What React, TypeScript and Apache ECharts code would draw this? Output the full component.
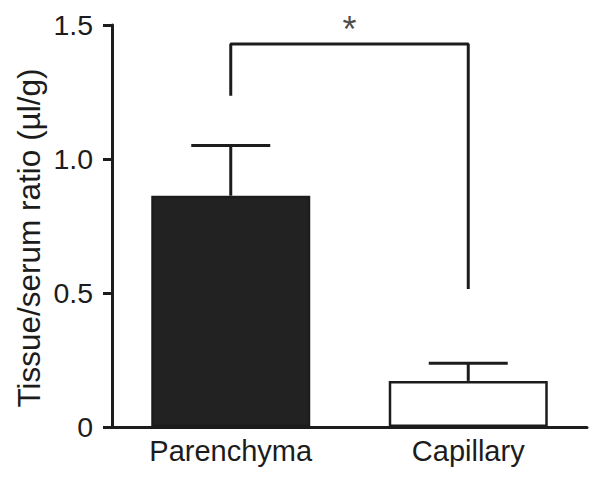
import React, { useEffect, useRef } from "react";
import * as echarts from "echarts";

const categories = ["Parenchyma", "Capillary"];
const means = [0.863, 0.172];
const errorTops = [1.05, 0.238];
const barColors = ["#222222", "#ffffff"];
const yTicks = [0, 0.5, 1.0, 1.5];
const yTitle = "Tissue/serum ratio (\u00b5l/g)";
// significance bracket: [category position, value]
const bracket = [
  [0, 1.236],
  [0, 1.429],
  [1, 1.429],
  [1, 0.515],
];
const starPos = [0.5, 1.429];
const starText = "*";

const FONT = "'Liberation Sans', Arial, Helvetica, sans-serif";
const INK = "#1c1c1c";

export default function App() {
  const ref = useRef<HTMLDivElement>(null);
  useEffect(() => {
    if (!ref.current) return;
    const chart = echarts.init(ref.current, null, { renderer: "svg" });
    chart.setOption({
      animation: false,
      backgroundColor: "#ffffff",
      grid: { left: 112, right: 13, top: 25, bottom: 52, containLabel: false },
      graphic: [
        {
          type: "text",
          x: 29,
          y: 238,
          rotation: Math.PI / 2,
          style: {
            text: yTitle,
            fontSize: 31.5,
            fontFamily: FONT,
            fill: INK,
            align: "center",
            verticalAlign: "middle",
          },
        },
      ],
      xAxis: [
        {
          type: "category",
          data: categories,
          axisLine: { onZero: false, lineStyle: { color: INK, width: 3 } },
          axisTick: { show: false },
          axisLabel: { color: INK, fontSize: 29, fontFamily: FONT, margin: 9 },
        },
        {
          type: "value",
          min: -0.5,
          max: 1.5,
          show: false,
        },
      ],
      yAxis: {
        type: "value",
        min: 0,
        max: 1.5,
        interval: 0.5,
        splitLine: { show: false },
        axisLine: { show: true, onZero: false, lineStyle: { color: INK, width: 3 } },
        axisTick: { show: true, length: 9, lineStyle: { color: INK, width: 3 } },
        axisLabel: {
          color: INK,
          fontSize: 28.5,
          fontFamily: FONT,
          margin: 19,
          formatter: (v: number) => (v === 0 ? "0" : v.toFixed(1)),
        },
      },
      series: [
        {
          type: "bar",
          xAxisIndex: 0,
          barWidth: 159,
          data: means.map((v, i) => ({
            value: v,
            itemStyle: {
              color: barColors[i],
              borderColor: INK,
              borderWidth: 2.5,
            },
          })),
        },
        {
          type: "custom",
          xAxisIndex: 0,
          data: means.map((m, i) => [i, m, errorTops[i]]),
          renderItem: (params: any, api: any) => {
            const x = api.value(0);
            const base = api.coord([x, api.value(1)]);
            const top = api.coord([x, api.value(2)]);
            const half = 39.5;
            return {
              type: "group",
              children: [
                {
                  type: "line",
                  shape: { x1: base[0], y1: base[1], x2: top[0], y2: top[1] },
                  style: { stroke: INK, lineWidth: 3 },
                },
                {
                  type: "line",
                  shape: { x1: top[0] - half, y1: top[1], x2: top[0] + half, y2: top[1] },
                  style: { stroke: INK, lineWidth: 3 },
                },
              ],
            };
          },
          z: 3,
        },
        {
          type: "line",
          xAxisIndex: 1,
          data: bracket.map((p) => [p[0], p[1]]),
          symbol: "none",
          lineStyle: { color: INK, width: 3 },
          z: 4,
        },
        {
          type: "scatter",
          xAxisIndex: 1,
          data: [starPos],
          symbolSize: 1,
          itemStyle: { color: "rgba(0,0,0,0)" },
          label: {
            show: true,
            formatter: starText,
            position: "top",
            distance: 2,
            color: INK,
            fontSize: 36,
            fontFamily: FONT,
            lineHeight: 24,
          },
        },
      ],
    });
    return () => chart.dispose();
  }, []);
  return (
    <div
      ref={ref}
      style={{ position: "fixed", left: 0, top: 0, width: 600, height: 479 }}
    />
  );
}
